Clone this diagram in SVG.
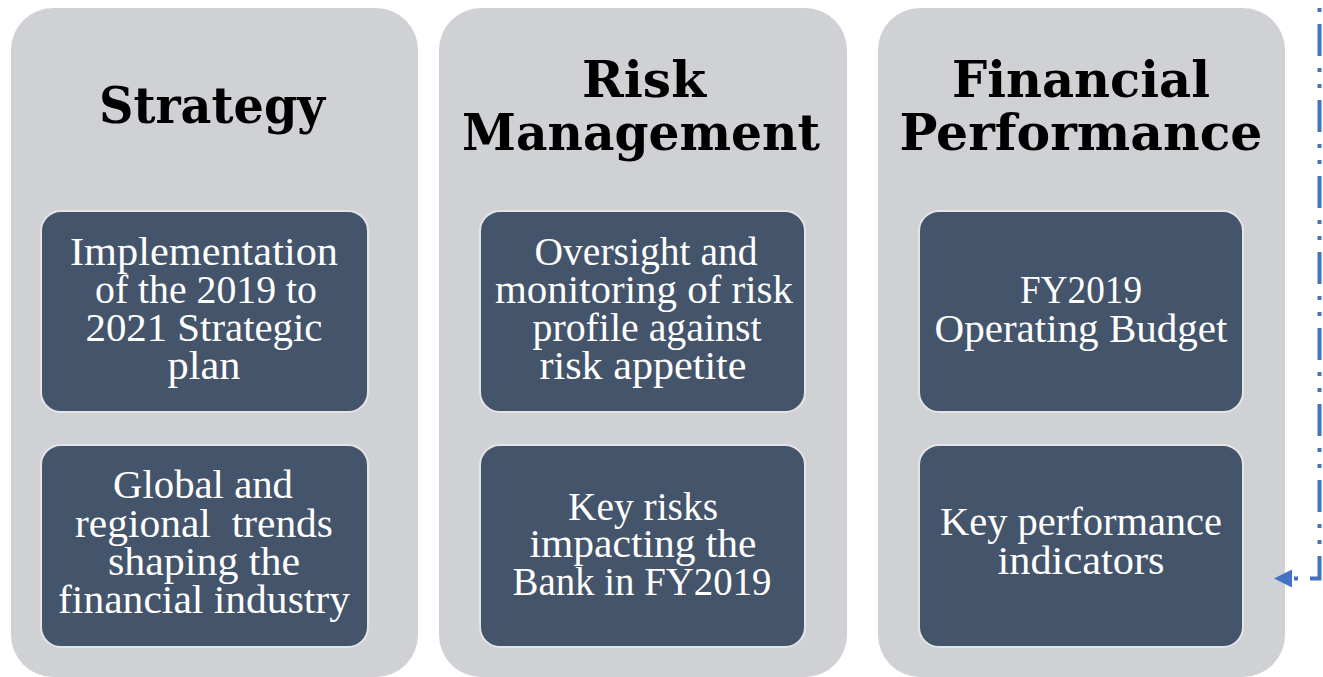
<svg xmlns="http://www.w3.org/2000/svg" width="1323" height="677" viewBox="0 0 1323 677">
  <style>
    .panel { fill: #D0D1D5; }
    .card { fill: #44546A; stroke: #E4E5E8; stroke-width: 2; }
    .head { font-family: "DejaVu Serif", "Liberation Serif", serif; font-weight: bold; font-size: 51px; fill: #000000; text-anchor: middle; }
    .body { font-family: "Liberation Serif", "DejaVu Serif", serif; font-size: 39px; fill: #FFFFFF; text-anchor: middle; }
    .link { fill: none; stroke: #4472C4; stroke-width: 4; stroke-dasharray: 32 12 4 12 4 12; stroke-dashoffset: 52; }
  </style>
  <defs>
    <marker id="arrow" markerUnits="userSpaceOnUse" markerWidth="18" markerHeight="18" refX="0" refY="8" orient="auto" viewBox="0 0 16 16">
      <path d="M0,0 L16,8 L0,16 Z" fill="#4472C4"/>
    </marker>
  </defs>
  <rect width="1323" height="677" fill="#FFFFFF"/>

  <!-- Strategy column -->
  <g id="strategy">
    <rect class="panel" x="11" y="8" width="407" height="669" rx="42"/>
    <text class="head" x="212" y="123" textLength="226" lengthAdjust="spacingAndGlyphs">Strategy</text>
    <g id="strategy-plan">
      <rect class="card" x="41" y="211" width="327" height="201" rx="20"/>
      <text class="body" x="204" y="265" textLength="268" lengthAdjust="spacingAndGlyphs">Implementation</text>
      <text class="body" x="206" y="303" textLength="222" lengthAdjust="spacingAndGlyphs">of the 2019 to</text>
      <text class="body" x="204" y="341" textLength="237" lengthAdjust="spacingAndGlyphs">2021 Strategic</text>
      <text class="body" x="204" y="379" textLength="73" lengthAdjust="spacingAndGlyphs">plan</text>
    </g>
    <g id="strategy-trends">
      <rect class="card" x="41" y="445" width="327" height="202" rx="20"/>
      <text class="body" x="203" y="498" textLength="180" lengthAdjust="spacingAndGlyphs">Global and</text>
      <text class="body" x="204" y="537" textLength="258" lengthAdjust="spacingAndGlyphs" style="white-space:pre">regional  trends</text>
      <text class="body" x="204" y="575" textLength="192" lengthAdjust="spacingAndGlyphs">shaping the</text>
      <text class="body" x="204" y="613" textLength="292" lengthAdjust="spacingAndGlyphs">financial industry</text>
    </g>
  </g>

  <!-- Risk Management column -->
  <g id="risk-management">
    <rect class="panel" x="439" y="8" width="408" height="669" rx="42"/>
    <text class="head" x="644" y="97" textLength="124" lengthAdjust="spacingAndGlyphs">Risk</text>
    <text class="head" x="641" y="150" textLength="358" lengthAdjust="spacingAndGlyphs">Management</text>
    <g id="risk-oversight">
      <rect class="card" x="480" y="211" width="325" height="201" rx="20"/>
      <text class="body" x="646" y="265" textLength="223" lengthAdjust="spacingAndGlyphs">Oversight and</text>
      <text class="body" x="644" y="303" textLength="298" lengthAdjust="spacingAndGlyphs">monitoring of risk</text>
      <text class="body" x="647" y="341" textLength="229" lengthAdjust="spacingAndGlyphs">profile against</text>
      <text class="body" x="643" y="379" textLength="207" lengthAdjust="spacingAndGlyphs">risk appetite</text>
    </g>
    <g id="risk-key">
      <rect class="card" x="480" y="445" width="325" height="202" rx="20"/>
      <text class="body" x="643" y="520" textLength="150" lengthAdjust="spacingAndGlyphs">Key risks</text>
      <text class="body" x="643" y="557" textLength="227" lengthAdjust="spacingAndGlyphs">impacting the</text>
      <text class="body" x="642" y="595" textLength="259" lengthAdjust="spacingAndGlyphs">Bank in FY2019</text>
    </g>
  </g>

  <!-- Financial Performance column -->
  <g id="financial-performance">
    <rect class="panel" x="878" y="8" width="407" height="669" rx="42"/>
    <text class="head" x="1081" y="97" textLength="258" lengthAdjust="spacingAndGlyphs">Financial</text>
    <text class="head" x="1081" y="150" textLength="363" lengthAdjust="spacingAndGlyphs">Performance</text>
    <g id="financial-budget">
      <rect class="card" x="919" y="211" width="324" height="201" rx="20"/>
      <text class="body" x="1081" y="303" textLength="122" lengthAdjust="spacingAndGlyphs">FY2019</text>
      <text class="body" x="1081" y="342" textLength="293" lengthAdjust="spacingAndGlyphs">Operating Budget</text>
    </g>
    <g id="financial-kpi">
      <rect class="card" x="919" y="445" width="324" height="202" rx="20"/>
      <text class="body" x="1081" y="535" textLength="282" lengthAdjust="spacingAndGlyphs">Key performance</text>
      <text class="body" x="1081" y="574" textLength="167" lengthAdjust="spacingAndGlyphs">indicators</text>
    </g>
  </g>

  <!-- Connectors -->
  <g id="connectors">
    <path class="link" d="M1319.5,0 V578.5 H1292" marker-end="url(#arrow)"/>
  </g>
</svg>
